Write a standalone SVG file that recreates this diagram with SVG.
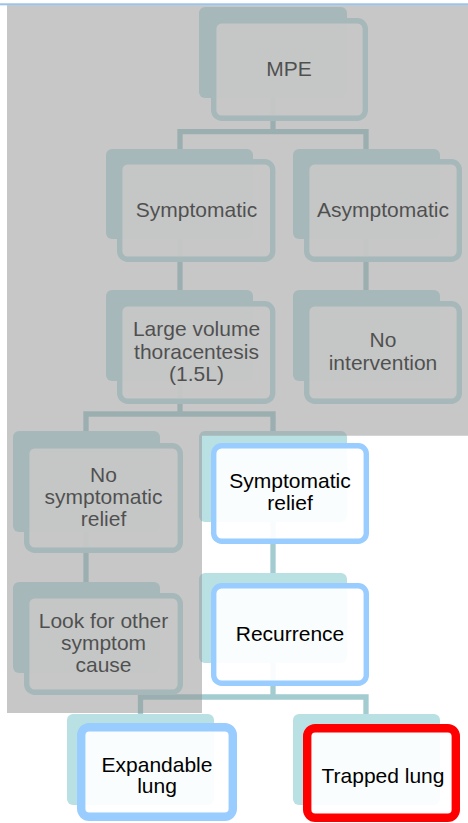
<svg xmlns="http://www.w3.org/2000/svg" width="468" height="823" viewBox="0 0 468 823">
<style>
.bg{fill:#B9E0E2}
.fr{fill:#FFFFFF;fill-opacity:0.93;stroke:#B9E0E2;stroke-width:5.4}
.hl{stroke:#99CCFF}
.red{stroke:#FF0000}
.thick{stroke-width:8.4}
.conn{fill:none;stroke:#A2CCD0;stroke-width:5.3;stroke-linejoin:miter;stroke-linecap:butt}
text{font-family:"Liberation Sans",Arial,sans-serif;font-size:21px;fill:#000;text-anchor:middle}
</style>
<rect x="0" y="0" width="468" height="823" fill="#FFFFFF"/>
<g id="connectors">
<path class="conn" d="M273,98 V131.7"/>
<path class="conn" d="M180,149 V131.7 H366 V149"/>
<path class="conn" d="M180,239 V290"/>
<path class="conn" d="M366,239 V290"/>
<path class="conn" d="M180,381 V414"/>
<path class="conn" d="M86,431 V414 H273 V431"/>
<path class="conn" d="M86,532 V582"/>
<path class="conn" d="M273,522 V573"/>
<path class="conn" d="M273,663 V697"/>
<path class="conn" d="M140.5,714 V697 H366 V714"/>
</g>
<g id="mpe">
<rect class="bg" x="199" y="7" width="148" height="91" rx="6"/>
<rect class="fr" x="213.7" y="20.7" width="151.6" height="97.6" rx="8"/>
<text x="289" y="76">MPE</text>
</g>
<g id="symptomatic">
<rect class="bg" x="106" y="149" width="147" height="90" rx="6"/>
<rect class="fr" x="119.7" y="161.7" width="153" height="97.6" rx="8"/>
<text x="196.5" y="217">Symptomatic</text>
</g>
<g id="asymptomatic">
<rect class="bg" x="293" y="149" width="147" height="90" rx="6"/>
<rect class="fr" x="306.7" y="161.7" width="152.6" height="97.6" rx="8"/>
<text x="383" y="217">Asymptomatic</text>
</g>
<g id="large-volume">
<rect class="bg" x="106" y="290" width="147" height="91" rx="6"/>
<rect class="fr" x="119.7" y="303.7" width="153" height="97.6" rx="8"/>
<text x="196.5" y="336">Large volume</text>
<text x="196.5" y="358.5">thoracentesis</text>
<text x="196.5" y="381">(1.5L)</text>
</g>
<g id="no-intervention">
<rect class="bg" x="293" y="290" width="147" height="91" rx="6"/>
<rect class="fr" x="306.7" y="303.7" width="152.6" height="97.6" rx="8"/>
<text x="383" y="347">No</text>
<text x="383" y="369.5">intervention</text>
</g>
<g id="no-symptomatic-relief">
<rect class="bg" x="13" y="431" width="147" height="101" rx="6"/>
<rect class="fr" x="26.7" y="445.7" width="153.6" height="104.6" rx="8"/>
<text x="103.5" y="482">No</text>
<text x="103.5" y="504">symptomatic</text>
<text x="103.5" y="526">relief</text>
</g>
<g id="symptomatic-relief">
<rect class="bg" x="199" y="431" width="148" height="91" rx="6"/>
<rect class="fr hl" x="213.7" y="445.7" width="152.6" height="95.6" rx="8"/>
<text x="290" y="488">Symptomatic</text>
<text x="290" y="510">relief</text>
</g>
<g id="look-for-other">
<rect class="bg" x="13" y="582" width="147" height="91" rx="6"/>
<rect class="fr" x="26.7" y="595.7" width="153.6" height="96.6" rx="8"/>
<text x="103.5" y="628">Look for other</text>
<text x="103.5" y="650">symptom</text>
<text x="103.5" y="672">cause</text>
</g>
<g id="recurrence">
<rect class="bg" x="199" y="573" width="148" height="90" rx="6"/>
<rect class="fr hl" x="213.7" y="585.7" width="152.6" height="97.6" rx="8"/>
<text x="290" y="641">Recurrence</text>
</g>
<g id="expandable-lung">
<rect class="bg" x="67" y="714" width="147" height="91" rx="6"/>
<rect class="fr hl thick" x="81.2" y="727.2" width="151.6" height="89.6" rx="8"/>
<text x="157" y="771.5">Expandable</text>
<text x="157" y="793">lung</text>
</g>
<g id="trapped-lung">
<rect class="bg" x="293" y="714" width="147" height="91" rx="6"/>
<rect class="fr red thick" x="307.2" y="728.2" width="148.6" height="89.6" rx="8"/>
<text x="383" y="782.5">Trapped lung</text>
</g>
<g id="overlay">
<rect x="0" y="3.3" width="468" height="2" fill="#99C4EC"/>
<polygon points="7,5.3 468,5.3 468,435.7 202,435.7 202,713 7,713" fill="#969696" fill-opacity="0.53"/>
</g>
</svg>
